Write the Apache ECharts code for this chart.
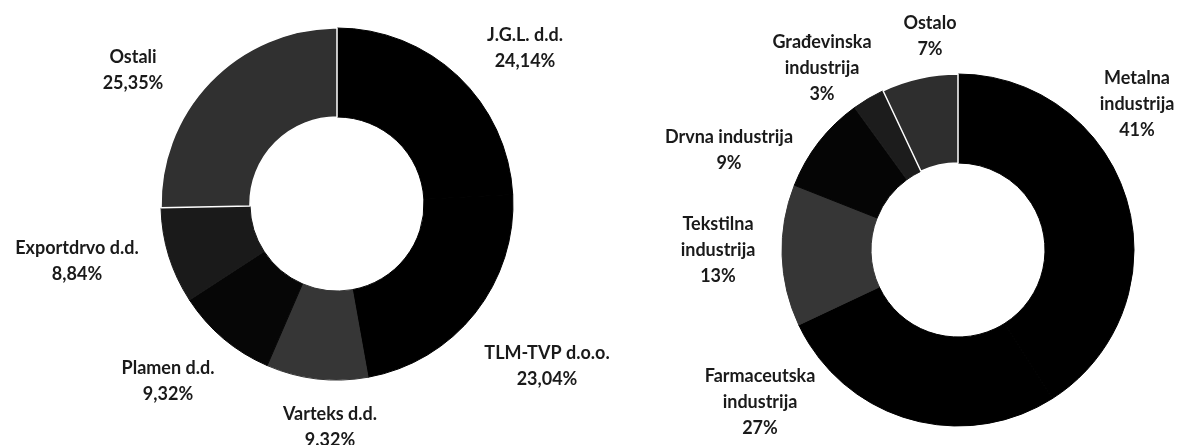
<!DOCTYPE html>
<html>
<head>
<meta charset="utf-8">
<script src="https://cdn.jsdelivr.net/npm/echarts@6/dist/echarts.min.js"></script>
<style>
  html, body { margin: 0; padding: 0; background: #fff; }
  #chart { width: 1181px; height: 445px; }
</style>
</head>
<body>
<div id="chart"></div>
<script>
// left donut - companies
const leftNames = ['J.G.L. d.d.', 'TLM-TVP d.o.o.', 'Varteks d.d.', 'Plamen d.d.', 'Exportdrvo d.d.', 'Ostali'];
const leftValues = [24.14, 23.04, 9.32, 9.32, 8.84, 25.35];
const leftPct = ['24,14%', '23,04%', '9.32%', '9,32%', '8,84%', '25,35%'];

// right donut - industries
const rightNames = ['Metalna\nindustrija', 'Farmaceutska\nindustrija', 'Tekstilna\nindustrija', 'Drvna industrija', 'Građevinska\nindustrija', 'Ostalo'];
const rightValues = [41, 27, 13, 9, 3, 7];
const rightPct = ['41%', '27%', '13%', '9%', '3%', '7%'];

// styling / layout (not data)
const leftColors = ['#000000', '#000000', '#363636', '#060606', '#1a1a1a', '#303030'];
const rightColors = ['#000000', '#000000', '#363636', '#050505', '#1c1c1c', '#2e2e2e'];
const leftLabelPos = [[525, 48], [547, 366], [330, 427], [168, 381], [77, 261], [133, 70]];
const rightLabelPos = [[1137, 104], [760, 402], [718, 250], [729, 150], [822, 68], [930, 36]];
const leftSep = 5;   // Ostali gets the white edge
const rightSep = 5;  // Ostalo gets the white edge

const chart = echarts.init(document.getElementById('chart'), null, { renderer: 'canvas' });

function buildData(names, values, pct, colors, sepIdx) {
  return names.map((n, i) => ({
    name: n,
    value: values[i],
    pct: pct[i],
    itemStyle: {
      color: colors[i],
      // same-colour border hides the antialias seams; white only on the separator slice
      borderColor: i === sepIdx ? '#fff' : colors[i],
      borderWidth: i === sepIdx ? 1.5 : 1
    }
  }));
}

function donut(center, data, pos) {
  return {
    type: 'pie',
    center: center,
    radius: [87, 176],
    startAngle: 90,
    clockwise: true,
    avoidLabelOverlap: false,
    silent: true,
    label: {
      show: true,
      position: 'outside',
      formatter: p => p.name + '\n' + p.data.pct,
      fontFamily: 'Lato',
      fontSize: 18,
      fontWeight: 'bold',
      lineHeight: 26,
      color: '#1a1a1a',
      align: 'center'
    },
    labelLine: { show: false },
    labelLayout: p => ({
      x: pos[p.dataIndex][0],
      y: pos[p.dataIndex][1],
      align: 'center',
      verticalAlign: 'middle'
    }),
    emphasis: { disabled: true },
    data: data
  };
}

chart.setOption({
  animation: false,
  backgroundColor: '#fff',
  series: [
    donut([337, 204], buildData(leftNames, leftValues, leftPct, leftColors, leftSep), leftLabelPos),
    donut([958, 250], buildData(rightNames, rightValues, rightPct, rightColors, rightSep), rightLabelPos)
  ]
});
</script>
</body>
</html>
